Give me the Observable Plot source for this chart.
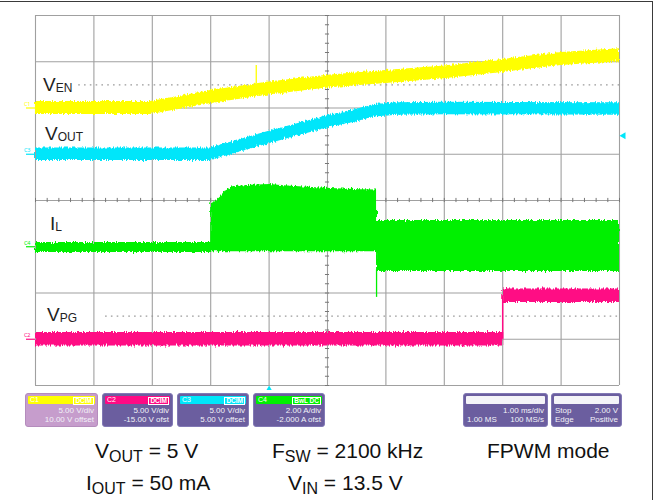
<!DOCTYPE html>
<html><head><meta charset="utf-8">
<script src="https://cdn.jsdelivr.net/npm/d3@7"></script>
<script src="https://cdn.jsdelivr.net/npm/@observablehq/plot@0.6"></script>
<style>
html,body{margin:0;padding:0;background:#fff;}
body{font-family:"Liberation Sans",Arial,Helvetica,sans-serif;}
#wrap{position:relative;width:660px;height:500px;overflow:hidden;background:#fff;}
#chart{position:absolute;left:0;top:0;}
#edge{position:absolute;left:-4px;top:1px;width:657px;height:510px;border-top:1.5px solid #3a3a3a;border-right:1.5px solid #3a3a3a;box-sizing:border-box;pointer-events:none;}
.lab{position:absolute;font-size:19px;line-height:19px;color:#222;white-space:nowrap;}
.lab sub{font-size:12px;vertical-align:-1px;line-height:0;}
.cap{position:absolute;font-size:21px;line-height:21px;color:#111;white-space:nowrap;}
.cap sub{font-size:16px;vertical-align:-4px;line-height:0;}
.box{position:absolute;top:393px;height:34px;border-radius:3px;background:#6b5e9f;border:1px solid #8279b5;box-sizing:border-box;color:#f2f2f8;font-size:8px;line-height:8px;white-space:nowrap;}
.box.sel{background:#c69dcc;border-color:#b48cbc;}
.hdr{position:absolute;left:2px;right:2px;top:2px;height:8px;border-radius:1px;}
.hdr .cn{position:absolute;left:2px;top:0;font-size:7px;line-height:8px;color:#fff;}
.hdr .tag{position:absolute;right:1px;top:0.5px;font-size:6.5px;line-height:6px;border:0.8px solid #fff;padding:0 1px;color:#fff;font-weight:bold;}
.r1{position:absolute;right:3px;top:13px;}
.r2{position:absolute;right:3px;top:22px;}
.l1{position:absolute;left:3px;top:13px;}
.l2{position:absolute;left:3px;top:22px;}
</style></head>
<body>
<div id="wrap"></div>
<script>
// ---------------- data ----------------
const channelNames = ["C1", "C2", "C3", "C4"];
const unitsPerDiv = [5, 5, 5, 2];
const channelOffsets = [10, -15, 5, -2];
const couplings = ["DCIM", "DCIM", "DCIM", "BwL DC"];
const scaleLabels = ["5.00 V/div", "5.00 V/div", "5.00 V/div", "2.00 A/div"];
const offsetLabels = ["10.00 V offset", "-15.00 V ofst", "5.00 V offset", "-2.000 A ofst"];

const timeTicks = [0, 1, 2, 3, 4, 5, 6, 7, 8, 9, 10];      // ms (1.00 ms/div)
const divTicks = [-4, -3, -2, -1, 0, 1, 2, 3, 4];
const dottedLevels = [2.5, -2.5];
const dottedStarts = [0.74, 1.2];

// VEN on C1 (V)
const venTime  = [0, 1.97, 2.5, 3.0, 4.0, 5.0, 6.0, 7.0, 8.0, 9.0, 10.0];
const venVolts = [0, 0, 0.6, 1.2, 2.1, 2.85, 3.35, 3.85, 4.55, 5.3, 5.7];
// VOUT on C3 (V)
const voutTime  = [0, 3.0, 4.0, 5.0, 5.5, 5.8, 6.2, 7.0, 10.0];
const voutVolts = [0, 0, 1.8, 3.5, 4.2, 4.7, 4.9, 4.95, 4.9];
// IL on C4 (A): ripple envelope
const ilTime = [0, 3.0, 3.0, 3.08, 3.17, 3.25, 3.39, 3.68, 4.02, 4.37, 5.05, 5.57, 5.84, 5.84, 10.0];
const ilHigh = [0.18, 0.18, 1.85, 1.95, 2.15, 2.42, 2.6, 2.66, 2.69, 2.62, 2.52, 2.47, 2.45, 1.14, 1.14];
const ilLow  = [-0.25, -0.25, -0.22, -0.22, -0.22, -0.22, -0.22, -0.22, -0.22, -0.22, -0.22, -0.22, -0.22, -1.07, -1.07];
// VPG on C2 (V)
const pgTime  = [0, 8.0, 8.0, 10.0];
const pgVolts = [0, 0, 4.7, 4.7];
// noise peak-to-peak of the voltage traces (C1, C2, C3)
const noisePP = [1.4, 1.45, 1.35];
// glitches
const venSpike = {t: 3.78, from: 2.6, to: 4.6};
const ilSpike = {t: 5.84, from: -1.0, to: -2.19};
// trigger
const triggerTime = 4.0;
const triggerLevel = 2.0;     // V on C3

// ---------------- style ----------------
const colors = ["#ffff00", "#ff0a84", "#00e6fa", "#00f000"];
const gridColor = "#a0a0a0";

const toDiv = (ch, v) => (v + channelOffsets[ch]) / unitsPerDiv[ch];
const band = (ch, times, vals, pp) => times.map((t, i) => ({t, lo: toDiv(ch, vals[i] - pp / 2), hi: toDiv(ch, vals[i] + pp / 2)}));

const venData = band(0, venTime, venVolts, noisePP[0]);
const pgData = band(1, pgTime, pgVolts, noisePP[1]);
const voutData = band(2, voutTime, voutVolts, noisePP[2]);
const ilData = ilTime.map((t, i) => ({t, lo: toDiv(3, ilLow[i]), hi: toDiv(3, ilHigh[i])}));

const minorT = d3.range(0, 50.5).map(i => i / 5);
const minorD = d3.range(-20, 20.5).map(i => i / 5);

const chart = Plot.plot({
  width: 660, height: 390,
  marginLeft: 35, marginRight: 41, marginTop: 15, marginBottom: 5,
  x: {domain: [0, 10], axis: null},
  y: {domain: [-4, 4], axis: null},
  marks: [
    Plot.ruleX(timeTicks, {stroke: gridColor, strokeWidth: 1.1}),
    Plot.ruleY(divTicks, {stroke: gridColor, strokeWidth: 1.1}),
    Plot.ruleX(minorT, {y1: -0.045, y2: 0.045, stroke: "#777", strokeWidth: 1}),
    Plot.ruleY(minorD, {x1: 4.965, x2: 5.035, stroke: "#777", strokeWidth: 1}),
    Plot.ruleY(dottedLevels.map((y, i) => ({y, x1: dottedStarts[i]})), {y: "y", x1: "x1", x2: 10, stroke: "#9a9a9a", strokeDasharray: "1.6,4.2", strokeWidth: 1.2}),
    Plot.areaY(venData, {x: "t", y1: "lo", y2: "hi", fill: colors[0]}),
    Plot.areaY(voutData, {x: "t", y1: "lo", y2: "hi", fill: colors[2]}),
    Plot.areaY(ilData, {x: "t", y1: "lo", y2: "hi", fill: colors[3]}),
    Plot.areaY(pgData, {x: "t", y1: "lo", y2: "hi", fill: colors[1]}),
    Plot.ruleX([venSpike], {x: "t", y1: d => toDiv(0, d.from), y2: d => toDiv(0, d.to), stroke: colors[0], strokeWidth: 1.3}),
    Plot.ruleX([ilSpike], {x: "t", y1: d => toDiv(3, d.from), y2: d => toDiv(3, d.to), stroke: colors[3], strokeWidth: 1.3}),
    Plot.ruleX([pgTime[1]], {y1: toDiv(1, pgVolts[1]), y2: toDiv(1, pgVolts[2]), stroke: colors[1], strokeWidth: 1.5}),
    Plot.ruleY(channelNames, {y: (d, i) => toDiv(i, 0), x1: 0, x2: 0, insetLeft: -9, stroke: (d, i) => colors[i], strokeWidth: 1.2}),
    Plot.text(channelNames, {x: 0, y: (d, i) => toDiv(i, 0), text: d => d, dx: -5, dy: -4, fontSize: 5.5, textAnchor: "end", fill: (d, i) => colors[i]}),
    Plot.dot([triggerLevel], {x: 10, y: d => toDiv(2, d), dx: 4, symbol: "triangle", rotate: -90, r: 2.6, fill: colors[2], stroke: "none"}),
    Plot.dot([triggerTime], {x: d => d, y: -4, dy: 4, symbol: "triangle", r: 2.6, fill: colors[2], stroke: "none"})
  ]
});
chart.id = "chart";
const wrap = document.getElementById("wrap");
wrap.appendChild(chart);

// jagged (noisy) edges for the traces
const svg = d3.select(chart);
const defs = svg.insert("defs", ":first-child");
const f = defs.append("filter").attr("id", "jag").attr("filterUnits", "userSpaceOnUse")
  .attr("x", 0).attr("y", 0).attr("width", 660).attr("height", 390);
f.append("feTurbulence").attr("type", "fractalNoise").attr("baseFrequency", "0.9 0.12").attr("numOctaves", 2).attr("seed", 4).attr("result", "n");
f.append("feDisplacementMap").attr("in", "SourceGraphic").attr("in2", "n").attr("scale", 5).attr("xChannelSelector", "R").attr("yChannelSelector", "G");
svg.selectAll('g[aria-label="area"]').attr("filter", "url(#jag)");

// ---------------- overlays ----------------
function add(html, cls, left, top) {
  const el = document.createElement("div");
  el.className = cls;
  el.style.left = left + "px";
  el.style.top = top + "px";
  el.innerHTML = html;
  wrap.appendChild(el);
  return el;
}
// trace labels
add("V<sub>EN</sub>", "lab", 43, 75);
add("V<sub>OUT</sub>", "lab", 45, 124);
add("I<sub>L</sub>", "lab", 50, 214);
add("V<sub>PG</sub>", "lab", 47, 305);

// channel boxes
const boxLefts = [25, 102, 177, 253];
const boxWidths = [73, 71, 72, 72];
channelNames.forEach((c, i) => {
  const b = add(
    `<div class="hdr" style="background:${colors[i]}"><span class="cn">${c}</span><span class="tag">${couplings[i]}</span></div>` +
    `<span class="r1">${scaleLabels[i]}</span><span class="r2">${offsetLabels[i]}</span>`,
    "box" + (i === 0 ? " sel" : ""), boxLefts[i], 393);
  b.style.width = boxWidths[i] + "px";
});
const tb = add(`<div class="hdr" style="background:#f4f4f8"></div><span class="r1">1.00 ms/div</span><span class="l2">1.00 MS</span><span class="r2">100 MS/s</span>`, "box", 463, 393);
tb.style.width = "85px";
const trb = add(`<div class="hdr" style="background:#f4f4f8"></div><span class="l1">Stop</span><span class="r1">2.00 V</span><span class="l2">Edge</span><span class="r2">Positive</span>`, "box", 551, 393);
trb.style.width = "71px";

// captions
add("V<sub>OUT</sub> = 5 V", "cap", 95, 440);
add("F<sub>SW</sub> = 2100 kHz", "cap", 272, 440);
add("FPWM mode", "cap", 487, 440);
add("I<sub>OUT</sub> = 50 mA", "cap", 86, 472);
add("V<sub>IN</sub> = 13.5 V", "cap", 288, 472);

const edge = document.createElement("div");
edge.id = "edge";
wrap.appendChild(edge);
</script>
</body></html>
